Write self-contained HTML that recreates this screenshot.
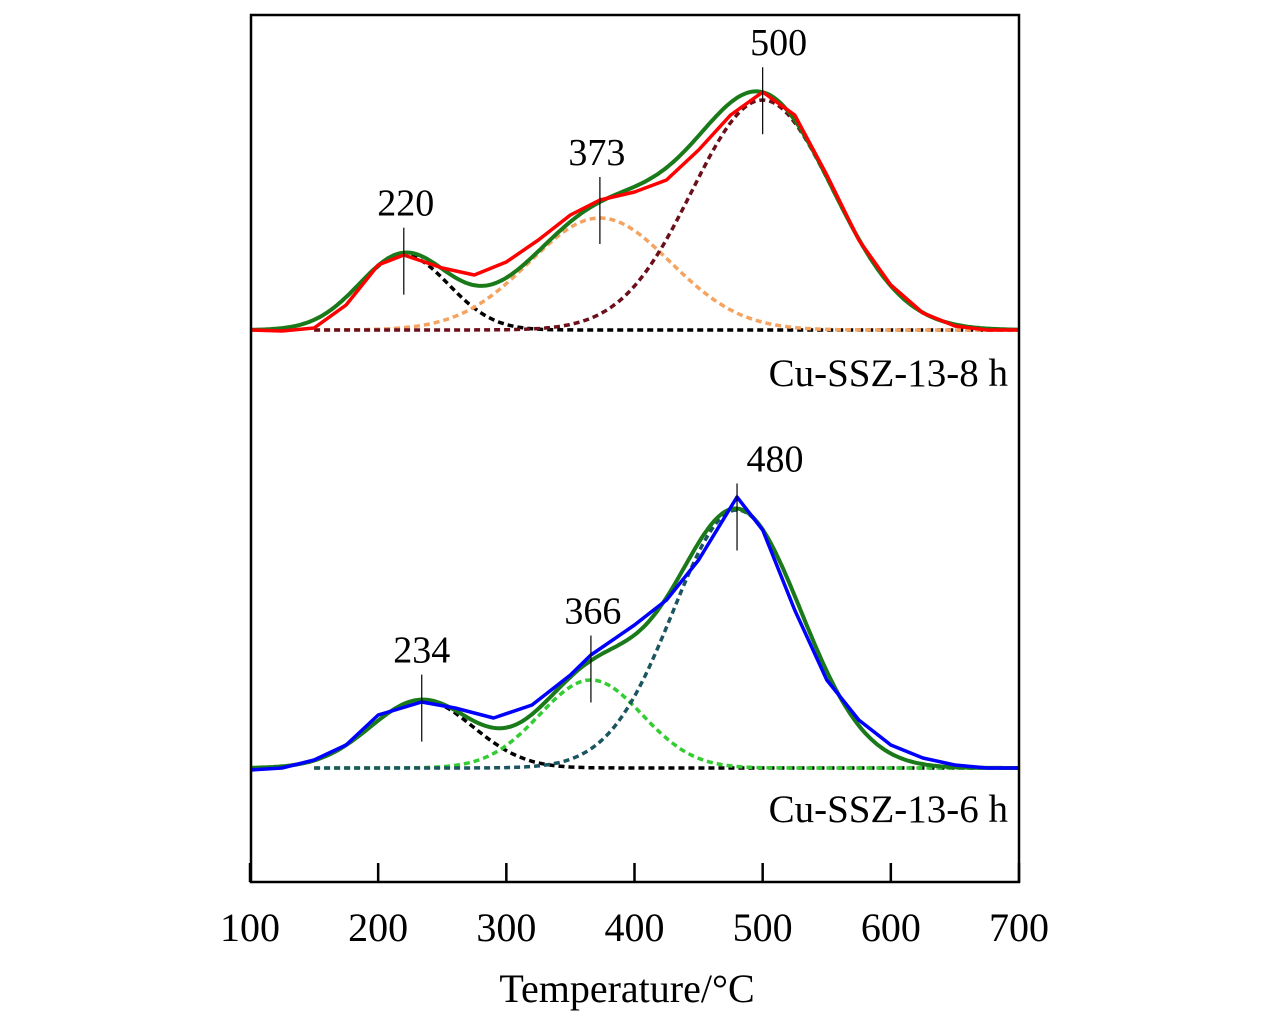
<!DOCTYPE html>
<html><head><meta charset="utf-8"><style>
html,body{margin:0;padding:0;background:#fff;}
svg{display:block;font-family:"Liberation Serif",serif;}
</style></head><body>
<svg id="chart" width="1276" height="1024"></svg>
<script>
const xTicks=[100,200,300,400,500,600,700];
const sampleT=[100,125,150,175,200,220,250,275,300,325,350,373,400,425,450,475,500,525,550,575,600,625,650,675,700];
const measured8h=[0,-1,2,25,65,75,62,55,68,90,115,130,138,150,180,215,238,215,155,90,45,17,4,0,0];
const sampleT6=[100,125,150,175,200,234,260,290,320,350,366,400,425,450,480,500,525,550,575,600,625,650,675,700];
const measured6h=[-2,0,8,23,53,66,60,50,63,93,113,143,168,208,271,238,158,88,48,23,10,3,0,0];
const peaks8h=[220,373,500];
const heights8h=[75,112,230];
const sigmas8h=[35,55,55];
const colors8h=["#000","#f4a460","#6b0f1a"];
const peaks6h=[234,366,480];
const heights6h=[68,88,258];
const sigmas6h=[40,40,50];
const colors6h=["#000","#33cc33","#1a5560"];
const labels8h=["220","373","500"];
const labels6h=["234","366","480"];

const NS="http://www.w3.org/2000/svg";
const svg=document.getElementById('chart');
const X0=250,X1=1019;
const xs=t=>X0+(t-100)*(X1-X0)/600;
function mk(tag,attrs,parent){const e=document.createElementNS(NS,tag);for(const k in attrs)e.setAttribute(k,attrs[k]);(parent||svg).appendChild(e);return e;}
function gauss(t,p,h,s){return h*Math.exp(-0.5*((t-p)/s)**2);}

function panel(base,peaks,heights,sigmas,colors,T,meas,measColor,labels,name,ldx){
  const g=mk('g',{});
  
  
  const ys=v=>base-v;
  peaks.forEach((p,i)=>{
    let d='';
    for(let t=150;t<=700;t+=2){d+=(d?'L':'M')+xs(t).toFixed(1)+','+ys(gauss(t,p,heights[i],sigmas[i])).toFixed(1);}
    const e=mk('path',{d:d,fill:'none',stroke:colors[i],'stroke-width':3.5,'stroke-dasharray':'6,4'},g);
    
    
  });
  let d='';
  for(let t=100;t<=700;t+=2){let v=0;peaks.forEach((p,i)=>v+=gauss(t,p,heights[i],sigmas[i]));d+=(d?'L':'M')+xs(t).toFixed(1)+','+ys(v).toFixed(1);}
  const f=mk('path',{d:d,fill:'none',stroke:'#1a7a1a','stroke-width':4},g);
  
  
  let m='';
  T.forEach((t,i)=>{m+=(m?'L':'M')+xs(t).toFixed(1)+','+ys(meas[i]).toFixed(1);});
  const me=mk('path',{d:m,fill:'none',stroke:measColor,'stroke-width':3.5,'stroke-linejoin':'round'},g);
  
  
  peaks.forEach((p,i)=>{
    let v=0;peaks.forEach((q,j)=>v+=gauss(p,q,heights[j],sigmas[j]));
    const y=ys(v);
    const l=mk('line',{x1:xs(p),x2:xs(p),y1:y-25,y2:y+42,stroke:'#000','stroke-width':1.2},g);
    
    
    const tx=mk('text',{x:xs(p)+ldx[i],y:y-37,'font-size':38,'text-anchor':'middle'},g);
    tx.textContent=labels[i];
    
    
  });
}
panel(330,peaks8h,heights8h,sigmas8h,colors8h,sampleT,measured8h,'#ff0000',labels8h,'cu-ssz-13-8h',[2,-3,16]);
panel(768,peaks6h,heights6h,sigmas6h,colors6h,sampleT6,measured6h,'#0000ff',labels6h,'cu-ssz-13-6h',[0,2,38]);

const fr=mk('rect',{x:251,y:15,width:768,height:867,fill:'none',stroke:'#000','stroke-width':2.5});


xTicks.forEach(t=>{
  const l=mk('line',{x1:xs(t),x2:xs(t),y1:863,y2:882,stroke:'#000','stroke-width':2.5});
  
  
  const tx=mk('text',{x:xs(t),y:941,'font-size':40,'text-anchor':'middle'});
  tx.textContent=t;
  
  
});
const xt=mk('text',{x:627,y:1002,'font-size':40,'text-anchor':'middle'});
xt.textContent='Temperature/°C';


const s1=mk('text',{x:1008,y:386,'font-size':39,'text-anchor':'end'});
s1.textContent='Cu-SSZ-13-8 h';


const s2=mk('text',{x:1008,y:822,'font-size':39,'text-anchor':'end'});
s2.textContent='Cu-SSZ-13-6 h';


</script>
</body></html>
